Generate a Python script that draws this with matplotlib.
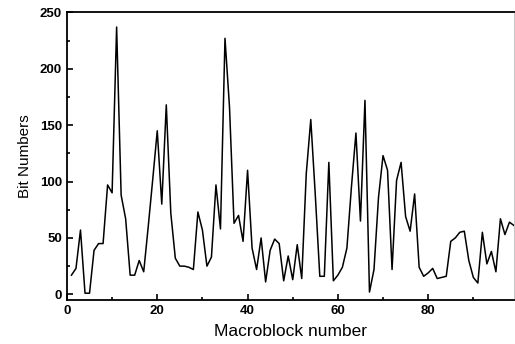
import numpy as np
import matplotlib
matplotlib.use('Agg')
import matplotlib.pyplot as plt
from matplotlib.ticker import MultipleLocator

plt.rcParams['font.family'] = ['Liberation Sans', 'DejaVu Sans']

# bits per macroblock
macroblock = np.arange(1, 100)
bits = [17, 23, 57, 1, 1, 39, 45, 45, 97, 90,
        237, 88, 67, 17, 17, 30, 20, 60, 102, 145,
        80, 168, 72, 32, 25, 25, 24, 22, 73, 57,
        25, 33, 97, 58, 227, 166, 63, 70, 47, 110,
        41, 22, 50, 11, 39, 49, 45, 12, 34, 13,
        44, 14, 107, 155, 88, 16, 16, 117, 12, 17,
        24, 41, 95, 143, 65, 172, 2, 22, 86, 123,
        110, 22, 101, 117, 69, 56, 89, 24, 16, 19,
        23, 14, 15, 16, 47, 50, 55, 56, 30, 15,
        10, 55, 27, 38, 20, 67, 53, 64, 61]

fig = plt.figure(figsize=(5.15, 3.44), dpi=100)
ax = fig.add_axes([0.130, 0.128, 0.868, 0.836])

ax.plot(macroblock, bits, 'k-', linewidth=1.1)

ax.set_xlim(0, 99)
ax.set_ylim(-5, 250)
ax.xaxis.set_major_locator(MultipleLocator(20))
ax.xaxis.set_minor_locator(MultipleLocator(10))
ax.yaxis.set_major_locator(MultipleLocator(50))
ax.yaxis.set_minor_locator(MultipleLocator(25))
ax.tick_params(which='both', direction='in', labelsize=9.5, width=1.2)
ax.tick_params(which='major', length=4)
ax.tick_params(which='minor', length=2.5)
for lab in ax.get_xticklabels() + ax.get_yticklabels():
    lab.set_fontweight('bold')

for s in ['left', 'bottom', 'top']:
    ax.spines[s].set_linewidth(1.3)
ax.spines['right'].set_color('#bbbbbb')
ax.spines['right'].set_linewidth(0.6)

ax.set_xlabel('Macroblock number', fontsize=12.5, labelpad=5)
ax.set_ylabel('Bit Numbers', fontsize=11, labelpad=6)

fig.savefig('out.png', dpi=100)
